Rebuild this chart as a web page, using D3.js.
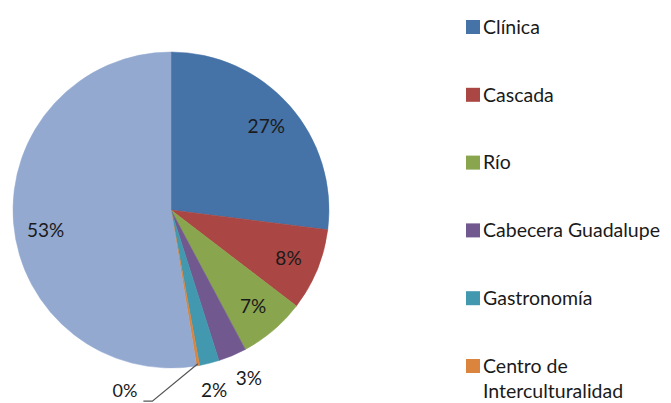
<!DOCTYPE html>
<html lang="es">
<head>
<meta charset="UTF-8">
<title>pie</title>
<script src="https://cdn.jsdelivr.net/npm/d3@7"></script>
<style>
    body { margin: 0; background: #fff; }
    text { font-family: Lato, "Open Sans", sans-serif; fill: #1a1a1a; }
</style>
</head>
<body>
<div id="chart"></div>
<script>
    var categories = ["Clínica", "Cascada", "Río", "Cabecera Guadalupe", "Gastronomía", "Centro de Interculturalidad", "Otros"];
    var values = [27.0, 8.4, 6.8, 2.9, 2.0, 0.3, 52.6];
    var colors = ["#4572A7", "#AA4643", "#89A54E", "#71588F", "#4198AF", "#DB843D", "#93A9D0"];
    var legendLabels = [["Clínica"], ["Cascada"], ["Río"], ["Cabecera Guadalupe"], ["Gastronomía"], ["Centro de", "Interculturalidad"]];

    var width = 671, height = 403;
    var cx = 171, cy = 210, R = 158;
    // angle nudges for the data labels (radians)
    var labelShift = [0, 0, 0, -0.035, 0.01, 0.27, -0.08];

    var svg = d3.select("#chart").append("svg")
        .attr("width", width)
        .attr("height", height);

    var total = d3.sum(values);
    var data = categories.map(function(c, i) { return { name: c, value: values[i], color: colors[i] }; });

    var pie = d3.pie().sort(null).value(function(d) { return d.value; });
    var arcs = pie(data);
    var arc = d3.arc().innerRadius(0).outerRadius(R);

    var g = svg.append("g").attr("transform", "translate(" + cx + "," + cy + ")");

    g.selectAll("path")
        .data(arcs)
        .enter().append("path")
        .attr("d", arc)
        .attr("fill", function(d) { return d.data.color; })
        .attr("stroke", function(d) { return d.data.color; })
        .attr("stroke-width", 0.5);

    function pt(angle, r) {
        return [r * Math.sin(angle), -r * Math.cos(angle)];
    }

    // labels
    arcs.forEach(function(d, i) {
        var mid = (d.startAngle + d.endAngle) / 2;
        var pct = Math.round(d.data.value / total * 100) + "%";
        var p;
        if (d.data.value < 1) {
            // leader line label
            var a = pt(mid, R - 2);
            var b = pt(mid + labelShift[i], 192);
            g.append("polyline")
                .attr("points", [a, b, [b[0] - 9, b[1]]].map(function(q) { return q.join(","); }).join(" "))
                .attr("fill", "none")
                .attr("stroke", "#555")
                .attr("stroke-width", 1.2);
            g.append("text")
                .attr("x", b[0] - 15).attr("y", b[1] - 4)
                .attr("text-anchor", "end")
                .attr("font-size", 18)
                .text(pct);
            return;
        } else if (d.data.value < 5) {
            p = pt(mid + labelShift[i], 185);
        } else {
            p = pt(mid + labelShift[i], 127);
        }
        g.append("text")
            .attr("x", p[0]).attr("y", p[1])
            .attr("text-anchor", "middle")
            .attr("dy", "0.35em")
            .attr("font-size", 19)
            .text(pct);
    });

    // legend
    var legend = svg.append("g");
    var ly = d3.scaleLinear().domain([0, 5]).range([27, 366]);
    legendLabels.forEach(function(lines, i) {
        var y = ly(i);
        legend.append("rect")
            .attr("x", 466).attr("y", y - 7)
            .attr("width", 14).attr("height", 14)
            .attr("fill", colors[i]);
        lines.forEach(function(t, j) {
            legend.append("text")
                .attr("x", 483).attr("y", y + j * 25)
                .attr("dy", "0.35em")
                .attr("font-size", 19.5)
                .text(t);
        });
    });
</script>
</body>
</html>
